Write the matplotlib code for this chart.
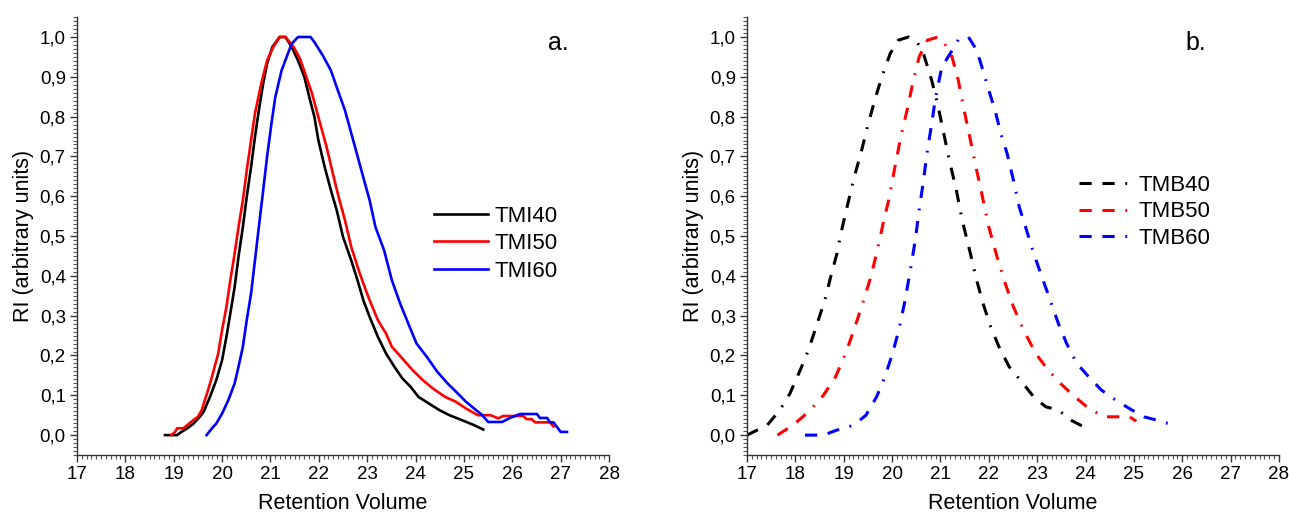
import matplotlib
matplotlib.use("Agg")
import matplotlib.pyplot as plt
from matplotlib.ticker import MultipleLocator, FuncFormatter

plt.rcParams['font.family'] = ['Liberation Sans', 'DejaVu Sans']

# --- panel a: TMI samples ---
tmi40_x = [18.82, 19.07, 19.16, 19.28, 19.41, 19.54, 19.62, 19.75, 19.88, 20.0, 20.09, 20.17,
           20.26, 20.34, 20.43, 20.51, 20.6, 20.68, 20.76, 20.85, 20.93, 21.04, 21.19, 21.31,
           21.44, 21.57, 21.7, 21.82, 21.91, 21.99, 22.12, 22.25, 22.37, 22.5, 22.67, 22.8,
           22.92, 23.05, 23.22, 23.39, 23.56, 23.73, 23.9, 24.06, 24.28, 24.49, 24.7, 24.95,
           25.21, 25.4]
tmi40_y = [0.0, 0.0, 0.008, 0.017, 0.029, 0.046, 0.059, 0.096, 0.138, 0.188, 0.247, 0.305,
           0.372, 0.448, 0.523, 0.598, 0.674, 0.749, 0.816, 0.883, 0.933, 0.975, 1.0, 1.0,
           0.975, 0.941, 0.9, 0.841, 0.799, 0.741, 0.674, 0.615, 0.565, 0.498, 0.439, 0.389,
           0.339, 0.297, 0.247, 0.205, 0.172, 0.142, 0.121, 0.096, 0.079, 0.063, 0.05, 0.038,
           0.025, 0.014]

tmi50_x = [18.95, 19.03, 19.07, 19.2, 19.28, 19.41, 19.5, 19.58, 19.71, 19.79, 19.92, 20.0,
           20.09, 20.17, 20.26, 20.34, 20.43, 20.51, 20.6, 20.68, 20.81, 20.93, 21.06, 21.19,
           21.31, 21.48, 21.61, 21.74, 21.86, 21.99, 22.16, 22.29, 22.41, 22.54, 22.67, 22.8,
           22.92, 23.05, 23.22, 23.39, 23.51, 23.73, 23.94, 24.15, 24.36, 24.61, 24.83, 25.04,
           25.29, 25.55, 25.71, 25.81, 26.22, 26.3, 26.4, 26.47, 26.78, 26.85]
tmi50_y = [0.0, 0.008, 0.017, 0.017, 0.025, 0.038, 0.046, 0.063, 0.113, 0.146, 0.205, 0.264,
           0.322, 0.389, 0.456, 0.523, 0.59, 0.665, 0.741, 0.808, 0.883, 0.941, 0.975, 1.0,
           1.0, 0.975, 0.946, 0.9, 0.858, 0.799, 0.724, 0.657, 0.598, 0.54, 0.473, 0.423,
           0.381, 0.339, 0.289, 0.255, 0.222, 0.192, 0.163, 0.138, 0.117, 0.096, 0.084, 0.067,
           0.05, 0.05, 0.042, 0.048, 0.048, 0.04, 0.04, 0.032, 0.032, 0.022]

tmi60_x = [19.68, 19.79, 19.88, 20.0, 20.13, 20.26, 20.34, 20.43, 20.51, 20.6, 20.68, 20.76,
           20.85, 20.93, 21.02, 21.1, 21.23, 21.36, 21.44, 21.57, 21.83, 21.91, 22.08, 22.25,
           22.37, 22.54, 22.71, 22.88, 23.05, 23.17, 23.35, 23.51, 23.68, 23.85, 24.02, 24.23,
           24.45, 24.66, 24.87, 25.04, 25.21, 25.38, 25.5, 25.79, 25.95, 26.16, 26.51, 26.57,
           26.72, 26.78, 26.85, 27.0, 27.13]
tmi60_y = [0.0, 0.017, 0.029, 0.054, 0.088, 0.13, 0.172, 0.222, 0.289, 0.356, 0.439, 0.523,
           0.615, 0.699, 0.782, 0.849, 0.916, 0.958, 0.983, 1.0, 1.0, 0.987, 0.954, 0.916,
           0.874, 0.816, 0.741, 0.665, 0.59, 0.523, 0.464, 0.389, 0.331, 0.28, 0.23, 0.197,
           0.159, 0.13, 0.105, 0.084, 0.067, 0.05, 0.033, 0.033, 0.043, 0.053, 0.053, 0.043,
           0.043, 0.032, 0.032, 0.008, 0.008]

# --- panel b: TMB samples ---
tmb40_x = [17.0, 17.42, 17.68, 17.89, 18.1, 18.27, 18.44, 18.61, 18.73, 18.86, 18.94, 19.07,
           19.2, 19.37, 19.49, 19.66, 19.79, 19.96, 20.13, 20.34, 20.52, 20.65, 20.82, 20.94,
           21.07, 21.2, 21.33, 21.45, 21.62, 21.75, 21.88, 22.04, 22.21, 22.42, 22.68, 22.93,
           23.18, 23.44, 23.69, 23.96]
tmb40_y = [0.0, 0.025, 0.063, 0.105, 0.163, 0.213, 0.276, 0.339, 0.397, 0.456, 0.506, 0.573,
           0.64, 0.715, 0.774, 0.849, 0.9, 0.958, 0.992, 1.0, 0.987, 0.958, 0.891, 0.833,
           0.757, 0.682, 0.615, 0.54, 0.456, 0.389, 0.331, 0.272, 0.222, 0.172, 0.134, 0.096,
           0.071, 0.063, 0.038, 0.021]

tmb50_x = [17.63, 17.95, 18.28, 18.58, 18.83, 19.04, 19.21, 19.38, 19.55, 19.68, 19.8, 19.93,
           20.06, 20.18, 20.31, 20.44, 20.56, 20.73, 20.95, 21.07, 21.24, 21.37, 21.49, 21.62,
           21.75, 21.87, 22.0, 22.17, 22.34, 22.51, 22.72, 22.97, 23.23, 23.48, 23.78, 24.11,
           24.41, 24.7, 24.91, 25.05]
tmb50_y = [0.0, 0.025, 0.059, 0.1, 0.146, 0.205, 0.264, 0.326, 0.393, 0.456, 0.523, 0.59,
           0.674, 0.749, 0.816, 0.891, 0.95, 0.992, 1.0, 0.987, 0.95, 0.891, 0.816, 0.741,
           0.665, 0.598, 0.523, 0.448, 0.381, 0.322, 0.264, 0.205, 0.163, 0.13, 0.096, 0.063,
           0.046, 0.046, 0.046, 0.035]

tmb60_x = [18.2, 18.58, 18.87, 19.21, 19.46, 19.68, 19.85, 20.01, 20.14, 20.27, 20.39, 20.48,
           20.56, 20.65, 20.73, 20.82, 20.9, 21.03, 21.2, 21.37, 21.58, 21.75, 21.88, 22.0,
           22.13, 22.25, 22.38, 22.51, 22.63, 22.76, 22.93, 23.1, 23.27, 23.44, 23.61, 23.82,
           24.07, 24.33, 24.62, 24.96, 25.21, 25.46, 25.74]
tmb60_y = [0.0, 0.0, 0.013, 0.025, 0.05, 0.096, 0.146, 0.205, 0.264, 0.339, 0.423, 0.49,
           0.565, 0.64, 0.715, 0.782, 0.849, 0.925, 0.958, 0.993, 1.0, 0.967, 0.916, 0.866,
           0.816, 0.757, 0.707, 0.64, 0.573, 0.523, 0.456, 0.397, 0.339, 0.28, 0.23, 0.18,
           0.146, 0.113, 0.088, 0.063, 0.046, 0.038, 0.028]

comma = FuncFormatter(lambda v, pos: f"{v:.1f}".replace(".", ","))


def style_axes(ax):
    ax.set_xlim(17, 28)
    ax.set_ylim(-0.05, 1.05)
    ax.xaxis.set_major_locator(MultipleLocator(1))
    ax.xaxis.set_minor_locator(MultipleLocator(0.1))
    ax.yaxis.set_minor_locator(MultipleLocator(0.01))
    ax.set_yticks([i / 10 for i in range(11)])
    ax.yaxis.set_major_formatter(comma)
    for s in ['top', 'right']:
        ax.spines[s].set_visible(False)
    for s in ['left', 'bottom']:
        ax.spines[s].set_color('#333333')
        ax.spines[s].set_linewidth(1.0)
    ax.tick_params(which='major', length=5, width=1, color='#333333', labelsize=13.5, pad=3)
    ax.tick_params(which='minor', length=3, width=0.8, color='#555555')
    ax.set_xlabel('Retention Volume', fontsize=15.5, labelpad=7)
    ax.set_ylabel('RI (arbitrary units)', fontsize=15.5, labelpad=4)


fig = plt.figure(figsize=(12.89, 5.18), dpi=100)
ax1 = fig.add_axes([0.0597, 0.1216, 0.4128, 0.8454])
ax2 = fig.add_axes([0.5795, 0.1216, 0.4127, 0.8454])

ax1.plot(tmi40_x, tmi40_y, color='black', lw=1.9, label='TMI40')
ax1.plot(tmi50_x, tmi50_y, color='red', lw=1.9, label='TMI50')
ax1.plot(tmi60_x, tmi60_y, color='blue', lw=1.9, label='TMI60')
style_axes(ax1)
ax1.legend(loc='upper left', bbox_to_anchor=(0.655, 0.59), frameon=False, fontsize=16,
           handlelength=2.4, labelspacing=0.3, handletextpad=0.3, borderaxespad=0)
ax1.text(0.885, 0.925, 'a.', transform=ax1.transAxes, fontsize=18)

dash = (0, (4, 3.5, 4, 3.5, 0.6, 3.5))
ax2.plot(tmb40_x, tmb40_y, color='black', lw=2.2, ls=dash, label='TMB40')
ax2.plot(tmb50_x, tmb50_y, color='red', lw=2.2, ls=dash, label='TMB50')
ax2.plot(tmb60_x, tmb60_y, color='blue', lw=2.2, ls=dash, label='TMB60')
style_axes(ax2)
ax2.legend(loc='upper left', bbox_to_anchor=(0.607, 0.66), frameon=False, fontsize=16,
           handlelength=2.4, labelspacing=0.25, handletextpad=0.3, borderaxespad=0)
ax2.text(0.825, 0.925, 'b.', transform=ax2.transAxes, fontsize=18)

fig.savefig('out.png', dpi=100)
